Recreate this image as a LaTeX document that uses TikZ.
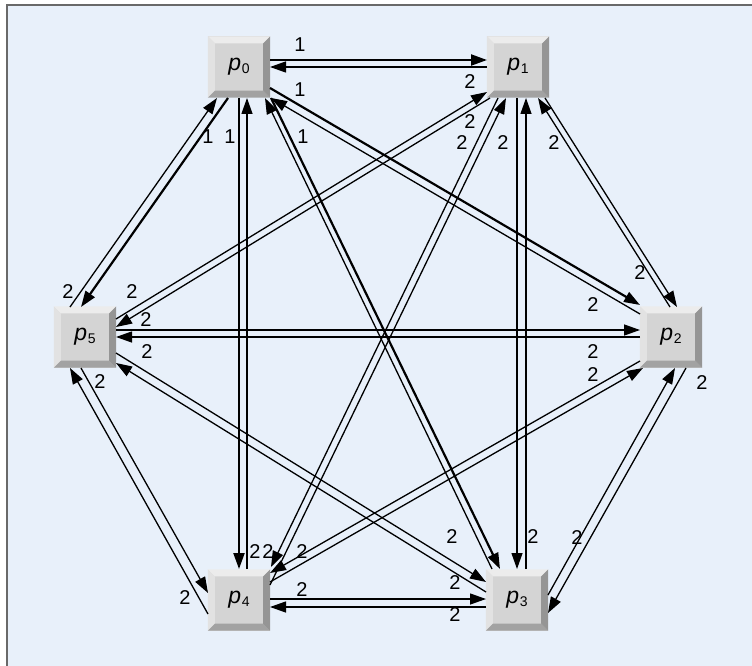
\documentclass[tikz,border=0pt]{standalone}
\usepackage{fontspec}
\setmainfont{Liberation Sans}
\usetikzlibrary{arrows.meta,calc}

\definecolor{bgblue}{RGB}{232,240,250}
\definecolor{framegray}{RGB}{105,105,105}
\definecolor{face}{RGB}{212,212,212}
\definecolor{bevlight}{RGB}{236,236,236}
\definecolor{bevdark}{RGB}{162,162,162}

\newcommand{\pn}[1]{\textit{p}\kern0.5pt\raisebox{-0.2ex}{\fontsize{14}{14}\selectfont #1}}

\begin{document}
\begin{tikzpicture}[x=1pt,y=-1pt,>={Triangle[length=16pt,width=11pt]},
  proc/.style={fill=face,minimum width=62pt,minimum height=61pt,inner sep=0pt,font=\fontsize{23}{23}\selectfont},
  msg/.style={->,line width=1.3pt},
  first/.style={->,line width=2.2pt},
  lab/.style={font=\fontsize{20}{20}\selectfont,inner sep=0pt}]
\useasboundingbox (0,0) rectangle (752,666);
\fill[bgblue] (7,5) rectangle (752,666);
\draw[framegray,line width=2.5pt] (7,666) -- (7,5) -- (752,5);

\node[proc] (p0) at (239,67) {\pn{0}};
\node[proc] (p1) at (518,67) {\pn{1}};
\node[proc] (p2) at (671,337) {\pn{2}};
\node[proc] (p3) at (517,600) {\pn{3}};
\node[proc] (p4) at (239,600) {\pn{4}};
\node[proc] (p5) at (85,337) {\pn{5}};

% bevelled edges of the boxes
\foreach \n in {p0,p1,p2,p3,p4,p5}{
  \fill[bevlight] (\n.north west) -- (\n.north east) -- ([shift={(-7,7)}]\n.north east) -- ([shift={(7,7)}]\n.north west) -- cycle;
  \fill[bevlight!96!black] (\n.north west) -- ([shift={(7,7)}]\n.north west) -- ([shift={(7,-7)}]\n.south west) -- (\n.south west) -- cycle;
  \fill[bevdark] (\n.south west) -- ([shift={(7,-7)}]\n.south west) -- ([shift={(-7,-7)}]\n.south east) -- (\n.south east) -- cycle;
  \fill[bevdark!92!black] (\n.north east) -- (\n.south east) -- ([shift={(-7,-7)}]\n.south east) -- ([shift={(-7,7)}]\n.north east) -- cycle;
}

% messages sent by p0
\draw[first] ($(p0)+(31,-7)$) -- ($(p1)+(-31,-7)$) node[lab] at (300,45) {1};
\draw[first] ($(p0)+(31,21)$) -- ($(p2)+(-31,-32)$) node[lab] at (300,90) {1};
\draw[first] ($(p0)+(32,31)$) -- ($(p3)+(-17,-31)$) node[lab] at (303,137) {1};
\draw[first] ($(p0)+(0,31)$) -- ($(p4)+(0,-31)$) node[lab] at (230,137) {1};
\draw[first] ($(p0)+(-11,31)$) -- ($(p5)+(-4,-30)$) node[lab] at (208,137) {1};
% messages sent by p1
\draw[msg] ($(p1)+(-31,0)$) -- ($(p0)+(31,0)$) node[lab] at (470,82) {2};
\draw[msg] ($(p1)+(27,31)$) -- ($(p2)+(6,-30)$) node[lab] at (554,143) {2};
\draw[msg] ($(p1)+(-1,31)$) -- ($(p3)+(0,-31)$) node[lab] at (503,143) {2};
\draw[msg] ($(p1)+(-20,31)$) -- ($(p4)+(32,-33)$) node[lab] at (462,143) {2};
\draw[msg] ($(p1)+(-28,31)$) -- ($(p5)+(31,-10)$) node[lab] at (470,122) {2};
% messages sent by p2
\draw[msg] ($(p2)+(-31,-23)$) -- ($(p0)+(32,31)$) node[lab] at (593,305) {2};
\draw[msg] ($(p2)+(-1,-30)$) -- ($(p1)+(20,31)$) node[lab] at (640,273) {2};
\draw[msg] ($(p2)+(15,31)$) -- ($(p3)+(31,13)$) node[lab] at (702,383) {2};
\draw[msg] ($(p2)+(-31,24)$) -- ($(p4)+(31,-27)$) node[lab] at (593,375) {2};
\draw[msg] ($(p2)+(-31,0)$) -- ($(p5)+(31,0)$) node[lab] at (593,352) {2};
% messages sent by p3
\draw[msg] ($(p3)+(-25,-31)$) -- ($(p0)+(26,31)$) node[lab] at (452,537) {2};
\draw[msg] ($(p3)+(9,-31)$) -- ($(p1)+(8,31)$) node[lab] at (533,537) {2};
\draw[msg] ($(p3)+(31,-5)$) -- ($(p2)+(4,31)$) node[lab] at (577,538) {2};
\draw[msg] ($(p3)+(-31,7)$) -- ($(p4)+(31,7)$) node[lab] at (455,615) {2};
\draw[msg] ($(p3)+(-31,-8)$) -- ($(p5)+(31,26)$) node[lab] at (455,583) {2};
% messages sent by p4
\draw[msg] ($(p4)+(8,-31)$) -- ($(p0)+(8,31)$) node[lab] at (255,552) {2};
\draw[msg] ($(p4)+(31,-15)$) -- ($(p1)+(-12,31)$) node[lab] at (268,552) {2};
\draw[msg] ($(p4)+(31,-18)$) -- ($(p2)+(-28,31)$) node[lab] at (302,552) {2};
\draw[msg] ($(p4)+(31,-1)$) -- ($(p3)+(-31,-1)$) node[lab] at (302,590) {2};
\draw[msg] ($(p4)+(-31,14)$) -- ($(p5)+(-15,31)$) node[lab] at (185,598) {2};
% messages sent by p5
\draw[msg] ($(p5)+(-15,-30)$) -- ($(p0)+(-22,31)$) node[lab] at (68,292) {2};
\draw[msg] ($(p5)+(31,-18)$) -- ($(p1)+(-31,25)$) node[lab] at (132,292) {2};
\draw[msg] ($(p5)+(31,-7)$) -- ($(p2)+(-31,-7)$) node[lab] at (146,320) {2};
\draw[msg] ($(p5)+(31,16)$) -- ($(p3)+(-31,-18)$) node[lab] at (147,352) {2};
\draw[msg] ($(p5)+(-4,31)$) -- ($(p4)+(-31,-7)$) node[lab] at (100,382) {2};
\end{tikzpicture}
\end{document}
